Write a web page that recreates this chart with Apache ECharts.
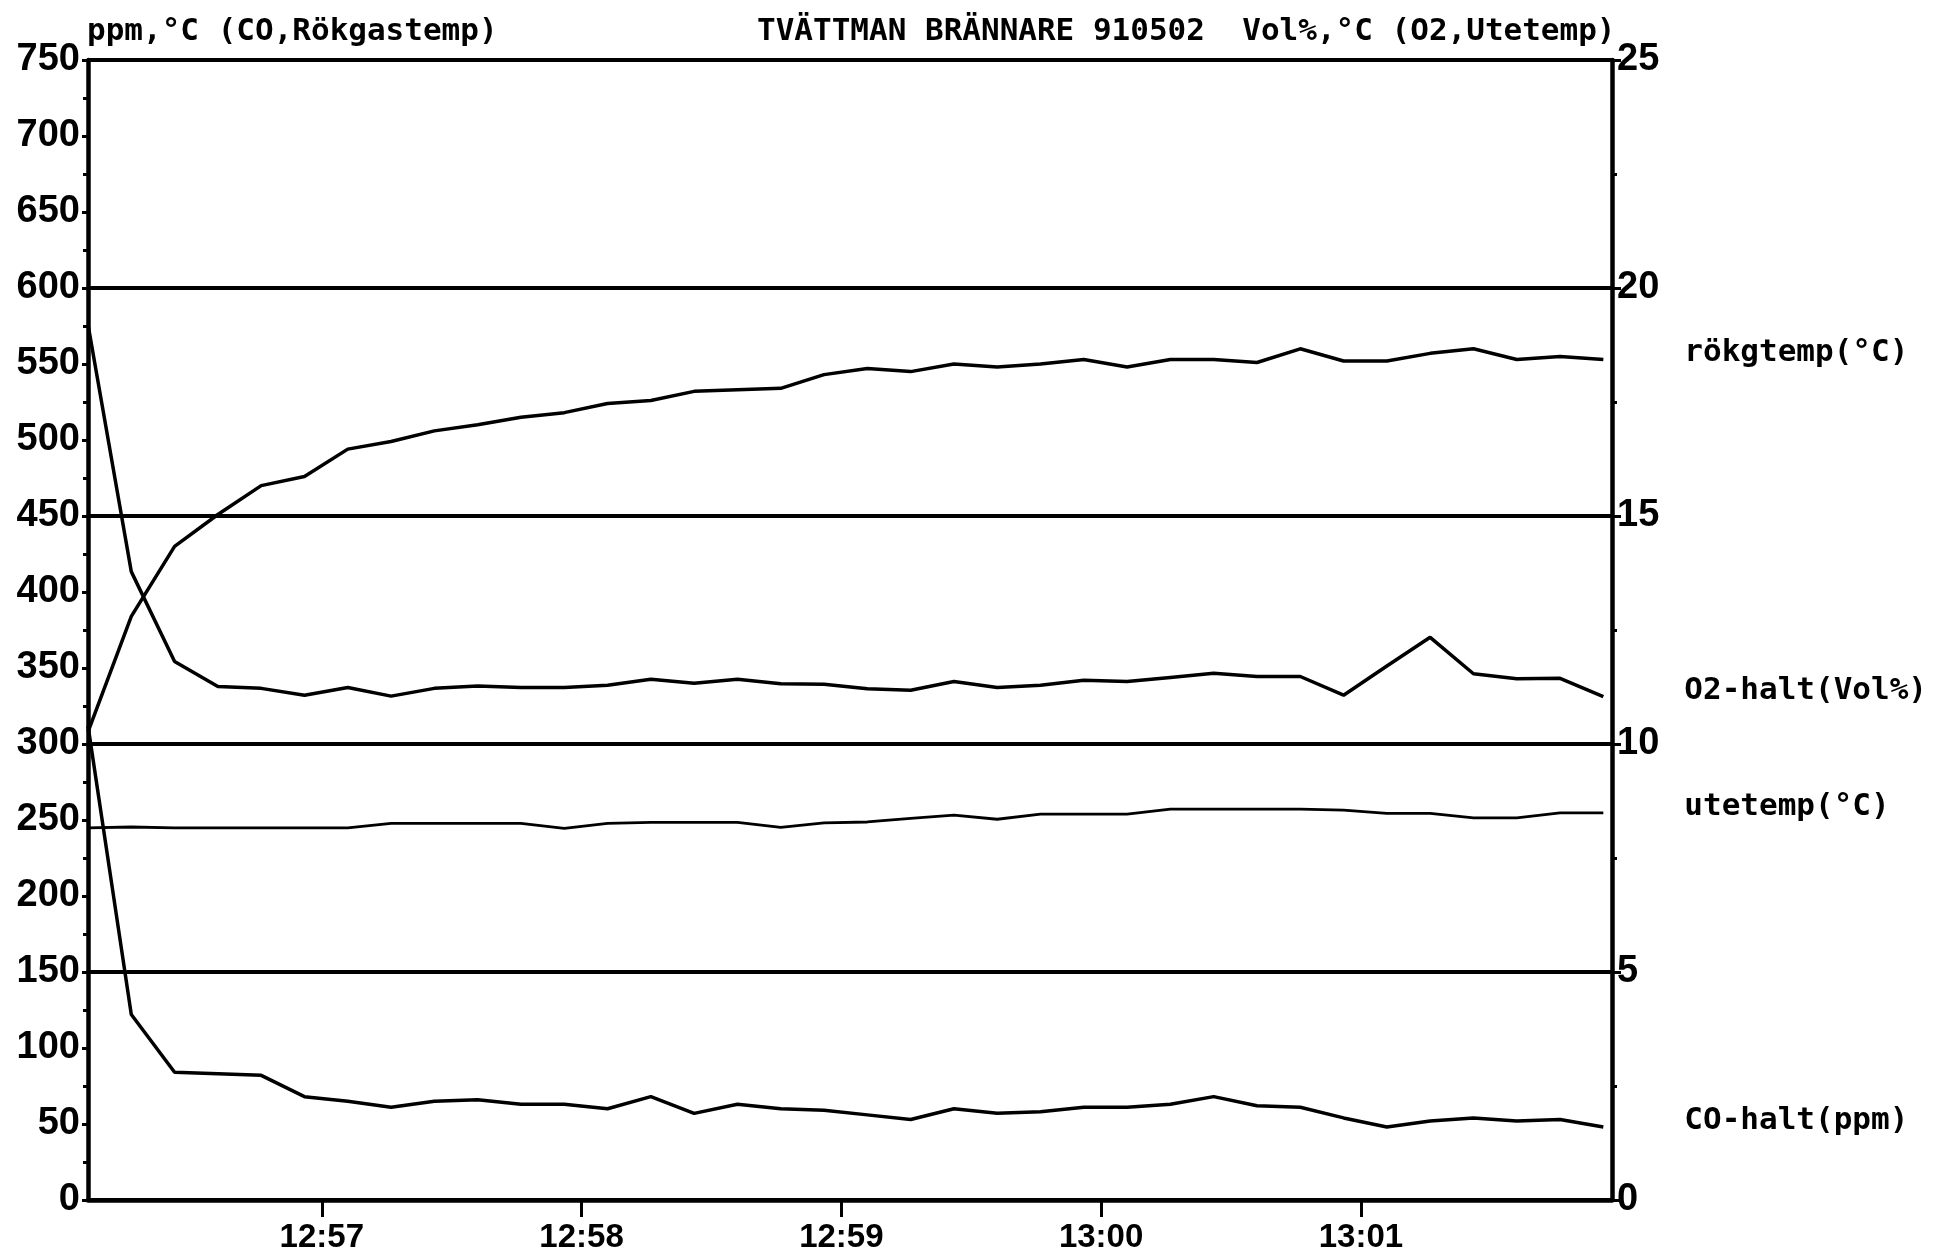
<!DOCTYPE html>
<html><head><meta charset="utf-8">
<script src="https://cdn.jsdelivr.net/npm/echarts@6/dist/echarts.min.js"></script>
<style>html,body{margin:0;padding:0;background:#fff;}#c{width:1940px;height:1259px;}</style>
</head><body><div id="c"></div>
<script>
// ---- data ----
const sampleTimes = [
  "12:56:06","12:56:16","12:56:26","12:56:36","12:56:46","12:56:56",
  "12:57:06","12:57:16","12:57:26","12:57:36","12:57:46","12:57:56",
  "12:58:06","12:58:16","12:58:26","12:58:36","12:58:46","12:58:56",
  "12:59:06","12:59:16","12:59:26","12:59:36","12:59:46","12:59:56",
  "13:00:06","13:00:16","13:00:26","13:00:36","13:00:46","13:00:56",
  "13:01:06","13:01:16","13:01:26","13:01:36","13:01:46","13:01:56"
];
const xRange = ["12:56:06", "13:01:58"];
const xTickLabels = ["12:57", "12:58", "12:59", "13:00", "13:01"];

// left axis (ppm, °C)
const rokgtemp = [308,384,430,451,470,476,494,499,506,510, 515,518,524,526,532,533,534,543,547,545,
  550,548,550,553,548,553,553,551,560,552, 552,557,560,553,555,553];
const coHalt = [312,122,84,83,82,68,65,61,65,66, 63,63,60,68,57,63,60,59,56,53,
  60,57,58,61,61,63,68,62,61,54, 48,52,54,52,53,48];
// right axis (Vol%, °C)
const o2Halt = [19.2,13.78,11.81,11.26,11.22,11.07,11.24,11.05,11.22,11.27, 11.24,11.24,11.29,11.42,11.33,11.42,11.32,11.31,11.21,11.18,
  11.37,11.24,11.29,11.40,11.37,11.46,11.55,11.48,11.48,11.07, 11.71,12.34,11.54,11.43,11.44,11.04];
const utetemp = [8.16,8.18,8.16,8.16,8.16,8.16,8.16,8.26,8.26,8.26, 8.26,8.15,8.26,8.28,8.28,8.28,8.17,8.27,8.29,8.37,
  8.44,8.35,8.46,8.46,8.46,8.57,8.57,8.57,8.57,8.55, 8.48,8.48,8.38,8.38,8.49,8.49];

const leftTitle = "ppm,°C (CO,Rökgastemp)";
const rightTitle = "TVÄTTMAN BRÄNNARE 910502  Vol%,°C (O2,Utetemp)";
const seriesNames = ["rökgtemp(°C)", "O2-halt(Vol%)", "utetemp(°C)", "CO-halt(ppm)"];

// ---- helpers ----
function toSec(s){ const p = s.split(':').map(Number); return p[0]*3600 + p[1]*60 + (p[2]||0); }
function fmt(v){ const h = Math.floor(v/3600), m = Math.floor((v%3600)/60); return h + ':' + String(m).padStart(2,'0'); }
const pairs = arr => sampleTimes.map((t,i) => [toSec(t), arr[i]]);
const tickSecs = xTickLabels.map(toSec);

const monoFont = "'DejaVu Sans Mono', monospace";
const numFont = "'Liberation Sans', Arial, sans-serif";
const black = '#000';

function lineSeries(name, data, yIdx, w){
  return {
    name, type: 'line', yAxisIndex: yIdx, data: pairs(data),
    showSymbol: false, symbol: 'none', animation: false,
    lineStyle: { color: black, width: w },
    endLabel: { show: true, formatter: name, distance: 81, offset: [0, -6],
      fontFamily: monoFont, fontWeight: 'bold', fontSize: 31, color: black }
  };
}

const chart = echarts.init(document.getElementById('c'), null, { renderer: 'canvas' });
chart.setOption({
  backgroundColor: '#fff',
  animation: false,
  title: [
    { text: leftTitle, left: 82, top: 11,
      textStyle: { fontFamily: monoFont, fontWeight: 'bold', fontSize: 31, color: black } },
    { text: rightTitle, left: 752, top: 11,
      textStyle: { fontFamily: monoFont, fontWeight: 'bold', fontSize: 31, color: black } }
  ],
  grid: { left: 88, right: 328, top: 60, bottom: 59, containLabel: false },
  xAxis: {
    type: 'value', min: toSec(xRange[0]), max: toSec(xRange[1]), interval: 60,
    axisLine: { show: true, onZero: false, lineStyle: { color: black, width: 4.5 } },
    axisTick: { show: true, length: 17, customValues: tickSecs, lineStyle: { color: black, width: 3 } },
    axisLabel: { show: true, customValues: tickSecs, margin: 21, formatter: v => fmt(v),
      fontFamily: numFont, fontWeight: 'bold', fontSize: 33, color: black },
    splitLine: { show: false }
  },
  yAxis: [
    { type: 'value', min: 0, max: 750, interval: 50, position: 'left',
      axisLine: { show: true, lineStyle: { color: black, width: 4.5 } },
      axisTick: { show: true, length: 6, lineStyle: { color: black, width: 3 } },
      minorTick: { show: true, splitNumber: 2, length: 5, lineStyle: { color: black, width: 3 } },
      axisLabel: { margin: 8, fontFamily: numFont, fontWeight: 'bold', fontSize: 38, color: black },
      splitLine: { show: false } },
    { type: 'value', min: 0, max: 25, interval: 5, position: 'right',
      axisLine: { show: true, lineStyle: { color: black, width: 4.5 } },
      axisTick: { show: true, length: 9, lineStyle: { color: black, width: 3 } },
      minorTick: { show: true, splitNumber: 2, length: 5, lineStyle: { color: black, width: 3 } },
      axisLabel: { margin: 5, fontFamily: numFont, fontWeight: 'bold', fontSize: 38, color: black },
      splitLine: { show: true, lineStyle: { color: black, width: 4 } } }
  ],
  series: [
    lineSeries(seriesNames[0], rokgtemp, 0, 3.5),
    lineSeries(seriesNames[1], o2Halt, 1, 3.5),
    lineSeries(seriesNames[2], utetemp, 1, 2.8),
    lineSeries(seriesNames[3], coHalt, 0, 3.5)
  ]
});
</script>
</body></html>
